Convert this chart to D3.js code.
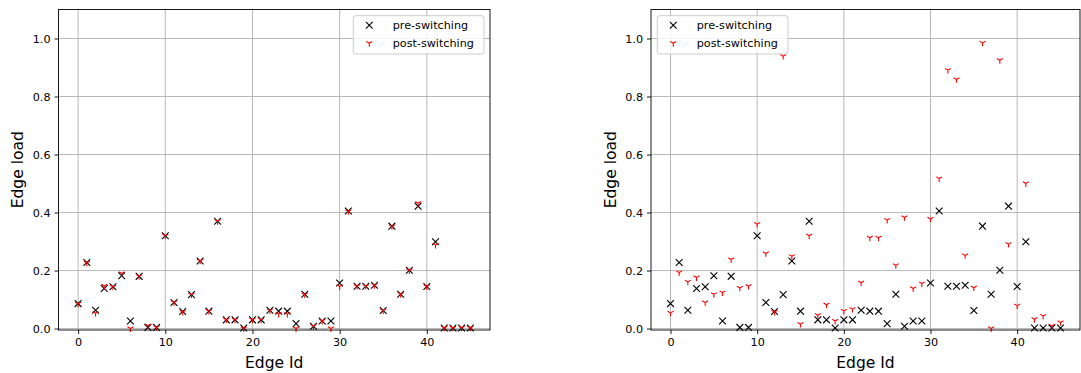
<!DOCTYPE html>
<html>
<head>
<meta charset="utf-8">
<script src="https://cdn.jsdelivr.net/npm/d3@7"></script>
<style>
  html, body { margin: 0; padding: 0; background: #fff; }
  svg { display: block; font-family: "DejaVu Sans", sans-serif; }
</style>
</head>
<body>
<svg id="chart" width="1081" height="373"></svg>
<script>
// edge ids on x
const edgeIds = d3.range(46)

// load before switching (same in both panels)
const preSwitching = [0.086, 0.228, 0.063, 0.138, 0.144, 0.182, 0.026, 0.180, 0.004, 0.004,
  0.320, 0.090, 0.059, 0.117, 0.233, 0.060, 0.370, 0.030, 0.030, 0.002,
  0.030, 0.030, 0.063, 0.060, 0.060, 0.017, 0.118, 0.008, 0.026, 0.026,
  0.157, 0.405, 0.146, 0.146, 0.149, 0.062, 0.353, 0.118, 0.201, 0.422,
  0.145, 0.299, 0.002, 0.002, 0.002, 0.002]

// left panel, after switching
const postSwitchingLeft = [0.085, 0.226, 0.053, 0.147, 0.144, 0.190, 0.000, 0.180, 0.010, 0.004,
  0.320, 0.090, 0.057, 0.117, 0.233, 0.060, 0.370, 0.030, 0.030, 0.000,
  0.030, 0.030, 0.062, 0.050, 0.050, 0.000, 0.117, 0.008, 0.026, 0.000,
  0.145, 0.404, 0.146, 0.146, 0.149, 0.062, 0.352, 0.118, 0.200, 0.432,
  0.145, 0.288, 0.002, 0.002, 0.002, 0.002]

// right panel, after switching
const postSwitchingRight = [0.054, 0.193, 0.161, 0.176, 0.090, 0.118, 0.124, 0.238, 0.140, 0.146,
  0.360, 0.259, 0.057, 0.939, 0.249, 0.015, 0.320, 0.046, 0.082, 0.026,
  0.061, 0.067, 0.158, 0.313, 0.313, 0.374, 0.218, 0.383, 0.138, 0.155,
  0.378, 0.517, 0.891, 0.859, 0.252, 0.141, 0.985, 0.000, 0.925, 0.291,
  0.079, 0.500, 0.032, 0.043, 0.009, 0.021]

const xTicks = [0, 10, 20, 30, 40]
const yTicks = [0.0, 0.2, 0.4, 0.6, 0.8, 1.0]
const legendLabels = ['pre-switching', 'post-switching']

const svg = d3.select('#chart')
svg.append('rect').attr('width', 1081).attr('height', 373).attr('fill', '#fff')

const plotTop = 9.5
const plotBottom = 330
const fs = 11.2
const gridColor = '#b0b0b0'

// marker paths
const mr = 3.4
const xMarker = `M${-mr},${-mr}L${mr},${mr}M${-mr},${mr}L${mr},${-mr}`
const triMarker = `M0,0L0,${mr}M0,0L${-0.866 * mr},${-0.5 * mr}M0,0L${0.866 * mr},${-0.5 * mr}`

function drawPanel(left, right, post, legendX, labelX) {
  const g = svg.append('g')

  const x = d3.scaleLinear().domain([-2.25, 47.25]).range([left, right])
  const y = d3.scaleLinear().domain([-0.005, 1.1]).range([plotBottom, plotTop])

  // 网格
  g.selectAll('line.gx').data(xTicks).join('line')
    .attr('class', 'gx')
    .attr('x1', (d) => x(d)).attr('x2', (d) => x(d))
    .attr('y1', plotTop).attr('y2', plotBottom)
    .attr('stroke', gridColor).attr('stroke-width', 0.9)
  g.selectAll('line.gy').data(yTicks).join('line')
    .attr('class', 'gy')
    .attr('x1', left).attr('x2', right)
    .attr('y1', (d) => y(d)).attr('y2', (d) => y(d))
    .attr('stroke', gridColor).attr('stroke-width', 0.9)

  // 点
  g.append('g').selectAll('path').data(edgeIds).join('path')
    .attr('d', xMarker)
    .attr('transform', (d) => `translate(${x(d)},${y(preSwitching[d])})`)
    .attr('stroke', '#000').attr('stroke-width', 1.1).attr('fill', 'none')
  g.append('g').selectAll('path').data(edgeIds).join('path')
    .attr('d', triMarker)
    .attr('transform', (d) => `translate(${x(d)},${y(post[d])})`)
    .attr('stroke', '#ff0000').attr('stroke-width', 1.1).attr('fill', 'none')

  // 坐标轴
  const ax = g.append('g').attr('transform', `translate(0,${plotBottom})`)
    .call(d3.axisBottom(x).tickValues(xTicks).tickSize(4).tickPadding(4).tickFormat(d3.format('d')))
  const ay = g.append('g').attr('transform', `translate(${left},0)`)
    .call(d3.axisLeft(y).tickValues(yTicks).tickSize(4).tickPadding(4).tickFormat(d3.format('.1f')))
  ;[ax, ay].forEach((a) => {
    a.select('.domain').remove()
    a.selectAll('line').attr('stroke', '#000').attr('stroke-width', 0.9)
    a.selectAll('text').attr('font-size', fs).attr('font-family', 'DejaVu Sans').attr('fill', '#000')
  })

  // 边框
  g.append('rect')
    .attr('x', left).attr('y', plotTop)
    .attr('width', right - left).attr('height', plotBottom - plotTop)
    .attr('fill', 'none').attr('stroke', '#000').attr('stroke-width', 0.9)

  // 轴标题
  g.append('text')
    .attr('x', (left + right) / 2).attr('y', 368)
    .attr('text-anchor', 'middle').attr('font-size', 15.5)
    .text('Edge Id')
  g.append('text')
    .attr('transform', `translate(${labelX},${(plotTop + plotBottom) / 2}) rotate(-90)`)
    .attr('text-anchor', 'middle').attr('font-size', 15.5)
    .text('Edge load')

  // 图例
  const lg = g.append('g').attr('transform', `translate(${legendX},15.7)`)
  lg.append('rect')
    .attr('width', 130.7).attr('height', 38.3).attr('rx', 2.5)
    .attr('fill', '#fff').attr('fill-opacity', 0.8)
    .attr('stroke', '#cccccc').attr('stroke-width', 1)
  const rows = [
    {label: legendLabels[0], d: xMarker, color: '#000'},
    {label: legendLabels[1], d: triMarker, color: '#ff0000'},
  ]
  rows.forEach((row, i) => {
    const cy = 9.6 + i * 18
    lg.append('path').attr('d', row.d)
      .attr('transform', `translate(16,${cy})`)
      .attr('stroke', row.color).attr('stroke-width', 1.1).attr('fill', 'none')
    lg.append('text').attr('x', 39.4).attr('y', cy + 4)
      .attr('font-size', fs).attr('fill', '#000')
      .text(row.label)
  })
}

drawPanel(58.5, 490, postSwitchingLeft, 353.3, 23)
drawPanel(651, 1080, postSwitchingRight, 657.3, 615.5)
</script>
</body>
</html>
